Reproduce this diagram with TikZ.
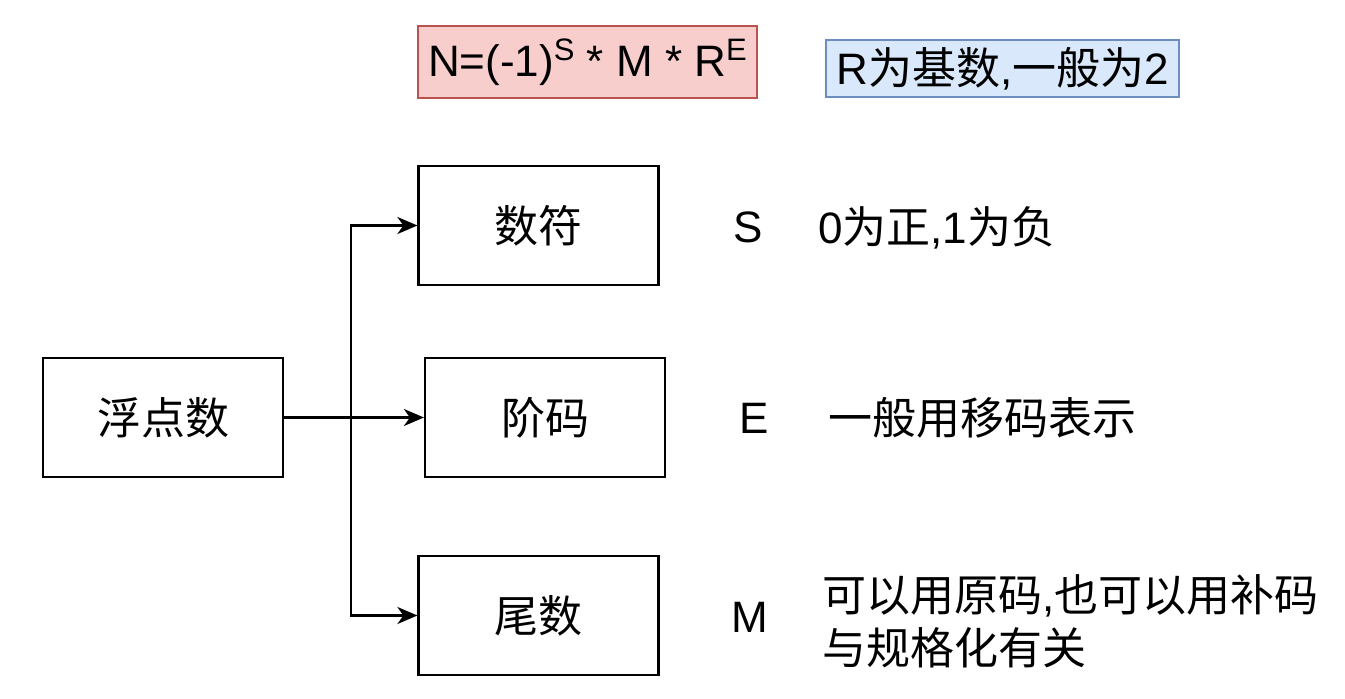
\documentclass[tikz,border=0pt]{standalone}
\usepackage{fontspec}
\setmainfont{Liberation Sans}
\newfontfamily\cjk{Noto Sans CJK SC}
\usetikzlibrary{arrows.meta}
\definecolor{pinkfill}{HTML}{F8CECC}
\definecolor{pinkline}{HTML}{B85450}
\definecolor{bluefill}{HTML}{DAE8FC}
\definecolor{blueline}{HTML}{6C8EBF}
\newcommand{\bigfont}{\fontsize{44}{53}\selectfont}
\newcommand{\supfont}{\fontsize{31}{34}\selectfont}
\tikzset{
  box/.style={draw=black, line width=2.2pt, minimum width=240pt, minimum height=119pt, inner sep=0pt, font=\bigfont},
  lbl/.style={inner sep=0pt, font=\bigfont},
  arr/.style={line width=2.4pt, -{Stealth[length=20pt,width=17pt,inset=6pt]}},
}
\begin{document}
\begin{tikzpicture}[x=1pt,y=-1pt]
\useasboundingbox (0,0) rectangle (1345,699);
% top boxes
\node[draw=pinkline, fill=pinkfill, line width=2pt, minimum width=339pt, minimum height=72pt, inner sep=0pt, font=\bigfont] (formula) at (587.5,62)
  {N=(-1)\raisebox{16pt}{\supfont S} * M * R\raisebox{16pt}{\supfont E}};
\node[draw=blueline, fill=bluefill, line width=2pt, minimum width=353pt, minimum height=57pt, inner sep=0pt, font=\bigfont] (base) at (1002.5,68.5)
  {R{\cjk 为基数},{\cjk 一般为}2};
% main boxes
\node[box] (fp) at (163,417.5) {\cjk 浮点数};
\node[box] (sf) at (538.5,225.5) {\cjk 数符};
\node[box] (jm) at (545,417.5) {\cjk 阶码};
\node[box] (ws) at (538.5,615.5) {\cjk 尾数};
% connectors
\coordinate (j) at (351,417.5);
\draw[arr] (fp.east) -- (j) |- (sf.west);
\draw[arr] (fp.east) -- (jm.west);
\draw[arr] (j) |- (ws.west);
% labels
\node[lbl] (ls) at (748,227) {S};
\node[lbl, anchor=west] (ts) at (818,228) {0{\cjk 为正},1{\cjk 为负}};
\node[lbl] (le) at (754,418) {E};
\node[lbl, anchor=west] (te) at (828,418) {\cjk 一般用移码表示};
\node[lbl] (lm) at (750,617) {M};
\node[lbl, anchor=west, align=left] (tm) at (822,621) {{\cjk 可以用原码},{\cjk 也可以用补码}\\{\cjk 与规格化有关}};
\end{tikzpicture}
\end{document}
